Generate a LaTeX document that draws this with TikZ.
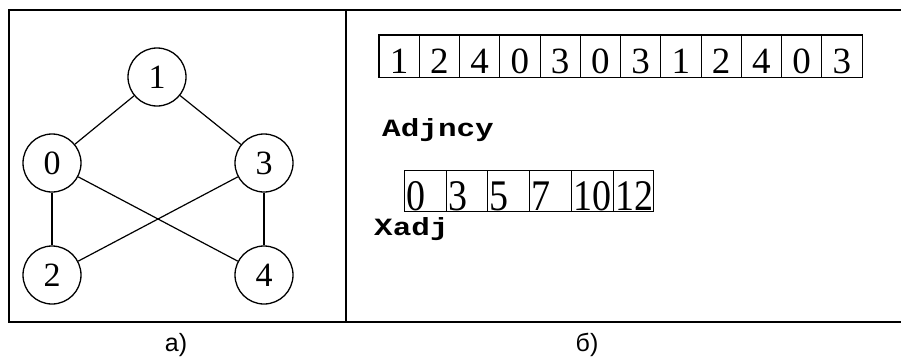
\documentclass[tikz,border=0pt]{standalone}
\usepackage{fontspec}
\usepackage{graphicx}
\setmainfont{Liberation Serif}
\setmonofont{Liberation Mono}
\newfontfamily\capfont{Liberation Sans}
\begin{document}
\begin{tikzpicture}[x=1pt,y=-1pt,
  vertex/.style={circle,draw,line width=1.3pt,minimum size=58pt,inner sep=0pt,
                 font=\fontsize{34}{34}\selectfont},
  edge/.style={line width=1.2pt},
  frame/.style={line width=2pt},
  acell/.style={draw,line width=0.8pt,minimum width=40.25pt,minimum height=42pt,inner sep=0pt},
  xcell/.style={draw,line width=0.8pt,minimum height=41pt,inner sep=0pt,anchor=north west},
  adig/.style={anchor=base,inner sep=0pt,font=\fontsize{37}{37}\selectfont},
  xdig/.style={anchor=base west,inner sep=0pt,font=\fontsize{38}{38}\selectfont},
  arrname/.style={anchor=base west,inner sep=0pt,font=\fontsize{31}{31}\selectfont\ttfamily\bfseries},
  caption/.style={anchor=base,inner sep=0pt,font=\fontsize{25}{25}\selectfont\capfont}]
\useasboundingbox (0,0) rectangle (901,356);

% outer frame, open on the right
\draw[frame] (901,10) -- (9,10) -- (9,322) -- (901,322);
\draw[frame] (346,10) -- (346,322);

% graph
\node[vertex] (v1) at (157,77) {1};
\node[vertex] (v0) at (52,163) {0};
\node[vertex] (v3) at (264,163) {3};
\node[vertex] (v2) at (52,275) {2};
\node[vertex] (v4) at (264,275) {4};
\draw[edge] (v1) -- (v0);
\draw[edge] (v1) -- (v3);
\draw[edge] (v0) -- (v2);
\draw[edge] (v3) -- (v4);
\draw[edge] (v0) -- (v4);
\draw[edge] (v3) -- (v2);

% adjacency array
\foreach \v [count=\i from 0] in {1,2,4,0,3,0,3,1,2,4,0,3} {
  \node[acell] (a\i) at ({399.125+40.25*\i},56) {};
  \node[adig] (ad\i) at ({399.125+40.25*\i},73.5) {\v};
}
\draw[line width=1.6pt] (a0.north west) rectangle (a11.south east);
\node[arrname] (adjname) at (382,136) {\scalebox{1}[0.8]{Adjncy}};

% index array
\foreach \l/\w/\v [count=\i] in {404/42/0,446/41/3,487/42/5,529/42/7,571/42/10,613/40/12} {
  \node[xcell,minimum width=\w pt] (x\i) at (\l,170) {};
  \node[xdig] (xd\i) at (\l+2,210) {\scalebox{1}[1.15]{\v}};
}
\node[arrname] (xadjname) at (374,235) {\scalebox{1}[0.8]{Xadj}};

% captions
\node[caption] (capa) at (176,351) {a)};
\node[caption] (capb) at (587,351) {б)};
\end{tikzpicture}
\end{document}
